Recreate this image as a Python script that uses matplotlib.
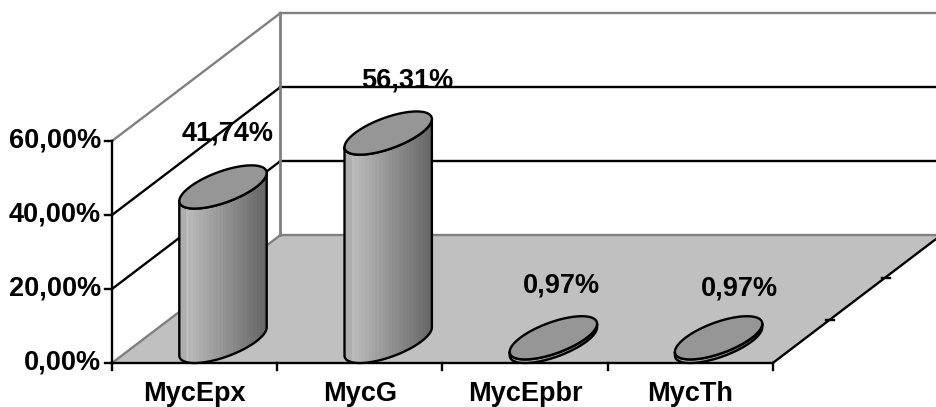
import numpy as np
import matplotlib
matplotlib.use("Agg")
import matplotlib.pyplot as plt
from matplotlib.patches import Polygon

# Chart data:
categories = ["MycEpx", "MycG", "MycEpbr", "MycTh"]
values = [41.74, 56.31, 0.97, 0.97]
value_labels = ["41,74%", "56,31%", "0,97%", "0,97%"]
y_ticks = [0, 20, 40, 60]
y_tick_labels = ["0,00%", "20,00%", "40,00%", "60,00%"]

# Label nudges, in pixels from the top of each cylinder:
label_dx = [5, 19, 8, 21]
label_dy = [-53, -53, -52, -49]

# Projection of the 3D box onto the picture, in pixels:
W, H = 937, 407
X0, Y0 = 112, 363
CAT_W = 165.2
PER_UNIT = 3.7
DEPTH_X, DEPTH_Y = 168.5, 128
RX, SX, SY = 33.2, 28.4, 21.6

plt.rcParams['font.family'] = ['Liberation Sans', 'DejaVu Sans']
plt.rcParams['font.weight'] = 'bold'
plt.rcParams['font.size'] = 19.5

fig = plt.figure(figsize=(W / 100, H / 100), dpi=100)
ax = fig.add_axes([0, 0, 1, 1])
ax.axis("off")

GREY = "#808080"
LW = 1.7


def val_y(v):
    return Y0 - v * PER_UNIT


top = val_y(max(y_ticks))
x_end = X0 + CAT_W * len(categories)

# Floor:
ax.add_patch(Polygon([(X0, Y0), (x_end, Y0), (x_end + DEPTH_X, Y0 - DEPTH_Y),
                      (X0 + DEPTH_X, Y0 - DEPTH_Y)], fc="#c0c0c0", ec="none", zorder=1))

# Grid on the side and back walls:
for v in y_ticks:
    col = "black" if v in (20, 40) else GREY
    y = val_y(v)
    ax.plot([X0, X0 + DEPTH_X], [y, y - DEPTH_Y], color=col, lw=LW, zorder=2)
    ax.plot([X0 + DEPTH_X, x_end + DEPTH_X], [y - DEPTH_Y, y - DEPTH_Y], color=col, lw=LW, zorder=2)
ax.plot([X0 + DEPTH_X, X0 + DEPTH_X], [top - DEPTH_Y, Y0 - DEPTH_Y], color=GREY, lw=2, zorder=2)

# Axes lines and ticks:
ax.plot([X0, X0], [top, Y0], color="black", lw=LW, zorder=3)
ax.plot([X0, x_end], [Y0, Y0], color="black", lw=LW, zorder=3)
ax.plot([x_end, x_end + DEPTH_X], [Y0, Y0 - DEPTH_Y], color="black", lw=LW, zorder=3)
for v, lab in zip(y_ticks, y_tick_labels):
    ax.plot([X0 - 7, X0], [val_y(v), val_y(v)], color="black", lw=LW, zorder=3)
    ax.text(X0 - 11, val_y(v), lab, ha="right", va="center")
for i in range(len(categories) + 1):
    ax.plot([X0 + i * CAT_W] * 2, [Y0, Y0 + 7], color="black", lw=LW, zorder=3)
for frac in (1 / 3, 2 / 3):
    tx = x_end + frac * DEPTH_X
    ty = Y0 - frac * DEPTH_Y
    ax.plot([tx - 3, tx + 5], [ty, ty], color="black", lw=LW, zorder=3)

# The reference clips the descenders at the picture edge, keep them inside here
for i, name in enumerate(categories):
    ax.text(X0 + (i + 0.5) * CAT_W, Y0 + 38, name, ha="center", va="baseline")

# Cylinders:
shades = np.linspace(0.76, 0.40, 26).reshape(1, -1)
shades[0, :2] = 0.68
for i, v in enumerate(values):
    cx = X0 + (i + 0.5) * CAT_W + SX
    base_y = Y0 - SY
    top_y = base_y - v * PER_UNIT
    half_w = np.hypot(RX, SX)
    t0 = np.arctan2(SX, RX)

    # Lower half of the circle, from the right tangent round to the left one
    t = np.linspace(t0, t0 - np.pi, 80)
    ex = RX * np.cos(t) + SX * np.sin(t)
    ey = -SY * np.sin(t)
    body = np.concatenate([
        np.column_stack([cx + ex, base_y + ey]),
        np.column_stack([cx + ex[::-1], top_y + ey[::-1]]),
    ])
    patch = Polygon(body, closed=True, fc="none", ec="black", lw=LW, zorder=6, joinstyle="round")
    ax.add_patch(patch)
    im = ax.imshow(shades, cmap="gray", vmin=0, vmax=1, aspect="auto", interpolation="nearest",
                   extent=(cx - half_w, cx + half_w, base_y + SY, top_y - SY), zorder=5)
    im.set_clip_path(patch)

    tt = np.linspace(0, 2 * np.pi, 160)
    lid = np.column_stack([cx + RX * np.cos(tt) + SX * np.sin(tt), top_y - SY * np.sin(tt)])
    ax.add_patch(Polygon(lid, closed=True, fc="#969696", ec="black", lw=LW, zorder=7))

    ax.text(cx + label_dx[i], top_y + label_dy[i], value_labels[i], ha="center", va="center", zorder=8)

ax.set_xlim(0, W)
ax.set_ylim(H, 0)
fig.savefig("out.png", dpi=100)
